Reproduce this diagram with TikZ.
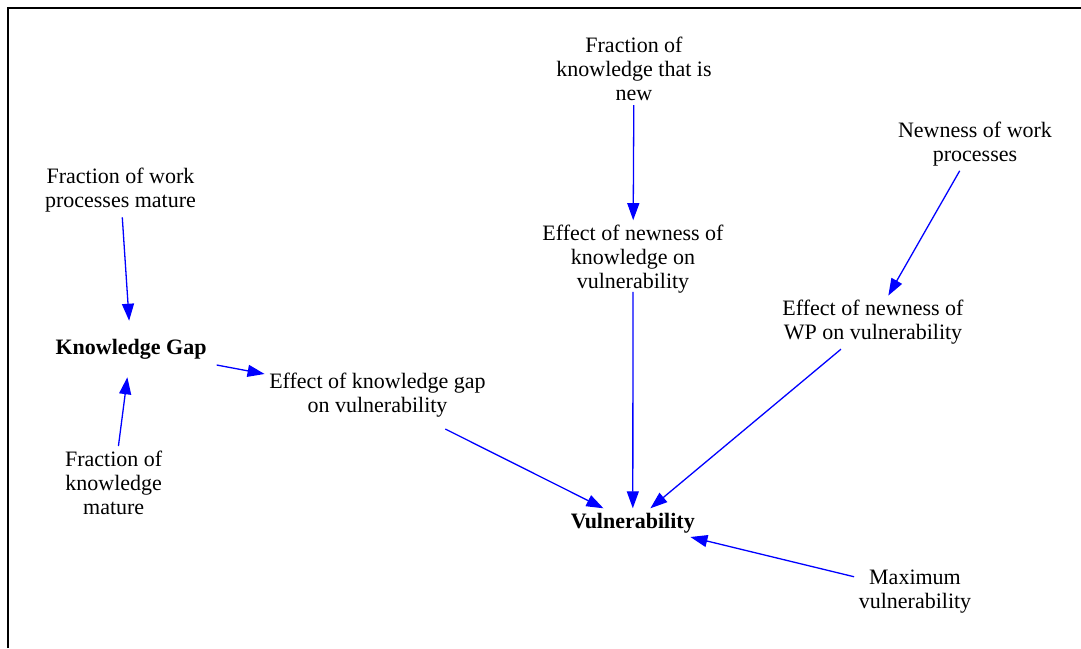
\documentclass[tikz,border=0pt]{standalone}
\usepackage{fontspec}
\setmainfont{Liberation Serif}
\usetikzlibrary{arrows.meta}
\tikzset{
  var/.style={align=center, inner sep=4.5pt, font=\fontsize{22}{24}\selectfont},
  keyvar/.style={var, font=\fontsize{22}{24}\selectfont\bfseries},
  link/.style={draw=blue, line width=1.3pt, -{Triangle[length=17pt,width=12pt]}, color=blue},
  frame/.style={line width=2pt, black}
}
\begin{document}
\begin{tikzpicture}[x=1pt,y=-1pt]
\useasboundingbox (0,0) rectangle (1081,648);
\draw[frame] (7.7,648) -- (7.7,7.7) -- (1081,7.7);

\node[var] (fkn) at (634,68.5) {Fraction of\\knowledge that is\\new};
\node[var] (enk) at (633,259) {Effect of newness of\\knowledge on\\vulnerability};
\node[var] (nwp) at (975,144) {Newness of work\\processes};
\node[var] (ewp) at (873,322.4) {Effect of newness of\\WP on vulnerability};
\node[var] (fwp) at (120.5,190.5) {Fraction of work\\processes mature};
\node[keyvar, inner xsep=10pt, inner ysep=18pt] (kg) at (131,349) {Knowledge Gap};
\node[var] (fkm) at (113.7,482.6) {Fraction of\\knowledge\\mature};
\node[var] (ekg) at (377.5,395) {Effect of knowledge gap\\on vulnerability};
\node[keyvar] (v) at (632.8,523) {Vulnerability};
\node[var] (mv) at (915,591.5) {Maximum\\vulnerability};

\draw[link] (fkn) -- (enk);
\draw[link] (fwp) -- (kg);
\draw[link] (fkm) -- (kg);
\draw[link] (kg) -- (ekg);
\draw[link] (nwp) -- (ewp);
\draw[link, shorten <=16pt] (ekg) -- (v);
\draw[link, shorten <=-6pt] (enk) -- (v);
\draw[link] (ewp) -- (v);
\draw[link, shorten >=-3pt] (mv) -- (v);
\end{tikzpicture}
\end{document}
